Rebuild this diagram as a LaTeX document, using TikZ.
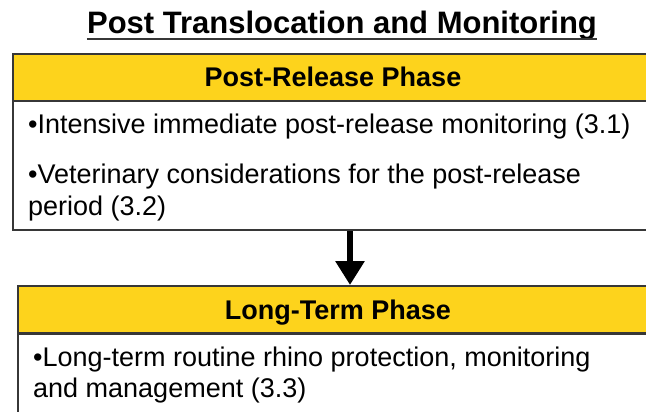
\documentclass[tikz,border=0pt]{standalone}
\usepackage{fontspec}
\setmainfont{Liberation Sans}
\usetikzlibrary{arrows.meta}
\definecolor{gold}{RGB}{253,211,28}
\definecolor{edge}{RGB}{55,55,55}
\begin{document}
\begin{tikzpicture}[x=1pt,y=1pt,
  hdr/.style={draw=edge, line width=2pt, fill=gold, inner sep=0pt, anchor=north west, minimum width=640pt, minimum height=47pt},
  bodybox/.style={draw=edge, line width=2pt, fill=white, inner sep=0pt, anchor=north west, minimum width=640pt},
  txt/.style={inner sep=0pt, anchor=base west, font=\fontsize{27}{32}\selectfont},
  hdrtxt/.style={inner sep=0pt, anchor=base, font=\fontsize{27}{32}\selectfont\bfseries},
  flow/.style={draw=black, line width=6pt, -{Triangle[width=28pt,length=24pt]}}]
\useasboundingbox (0,0) rectangle (646,-412);
\fill[white] (0,0) rectangle (646,-412);
% title
\node[inner sep=0pt, anchor=base, font=\fontsize{31}{36}\selectfont\bfseries] (title) at (342,-34) {Post Translocation and Monitoring};
\draw[line width=2pt, edge] ([yshift=-5pt]title.base west) -- ([yshift=-5pt]title.base east);
% top box
\node[bodybox, minimum height=129pt] (b1) at (12,-100) {};
\node[hdr] (h1) at (12,-53) {};
\node[hdrtxt] (h1t) at ([yshift=-34pt]h1.north) {Post-Release Phase};
\node[txt] (t1) at (28,-133) {•Intensive immediate post-release monitoring (3.1)};
\node[txt] (t2) at (28,-183) {•Veterinary considerations for the post-release};
\node[txt] (t2b) at (28,-215) {period (3.2)};
% bottom box
\node[bodybox, minimum height=110pt] (b2) at (17,-333) {};
\node[hdr] (h2) at (17,-285) {};
\node[hdrtxt] (h2t) at ([yshift=-34pt]h2.north) {Long-Term Phase};
\node[txt] (t3) at (33,-366) {•Long-term routine rhino protection, monitoring};
\node[txt] (t3b) at (33,-397) {and management (3.3)};
% arrow
\draw[flow] ([xshift=17pt]b1.south) -- ([xshift=12pt]h2.north);
\end{tikzpicture}
\end{document}
